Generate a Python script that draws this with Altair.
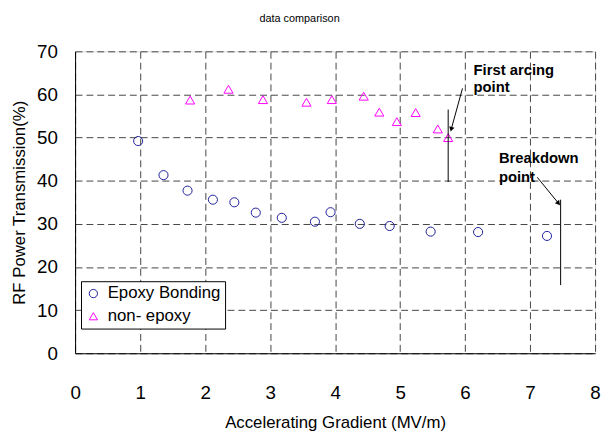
import altair as alt
import pandas as pd

epoxy_x = [0.97, 1.36, 1.73, 2.12, 2.45, 2.78, 3.18, 3.69, 3.93, 4.38, 4.84, 5.47, 6.20, 7.26]
epoxy_y = [49.2, 41.3, 37.7, 35.6, 35.0, 32.6, 31.4, 30.5, 32.7, 30.0, 29.5, 28.2, 28.1, 27.2]
nonep_x = [1.77, 2.36, 2.89, 3.56, 3.95, 4.44, 4.68, 4.95, 5.24, 5.58, 5.74]
nonep_y = [58.7, 61.2, 58.8, 58.2, 58.8, 59.6, 55.9, 53.7, 55.8, 52.0, 50.0]
series_names = ["Epoxy Bonding", "non- epoxy"]

# annotation markers (vertical bars)
vbar_x = [5.74, 7.47]
vbar_y1 = [56.5, 35.6]
vbar_y2 = [39.7, 15.8]
# arrows: start -> tip
arrow_x1 = [5.96, 7.11]
arrow_y1 = [61.4, 40.8]
arrow_x2 = [5.79, 7.43]
arrow_y2 = [52.1, 34.9]
arrow_angle = [195, 141]
# annotation text lines
note_x = [6.13, 6.13, 6.52, 6.52]
note_y = [65.65, 61.67, 45.27, 40.83]
note_text = ["First arcing", "point", "Breakdown", "point"]

pts = pd.DataFrame({
    "x": epoxy_x + nonep_x,
    "y": epoxy_y + nonep_y,
    "series": [series_names[0]] * len(epoxy_x) + [series_names[1]] * len(nonep_x),
})
vbars = pd.DataFrame({"x": vbar_x, "y": vbar_y1, "y2": vbar_y2})
arrows = pd.DataFrame({"x": arrow_x1, "y": arrow_y1, "x2": arrow_x2, "y2": arrow_y2, "angle": arrow_angle})
notes = pd.DataFrame({"x": note_x, "y": note_y, "text": note_text})

FONT = "Liberation Sans"

xscale = alt.Scale(domain=[0, 8], nice=False, zero=False)
yscale = alt.Scale(domain=[0, 70], nice=False, zero=False)

xaxis = alt.Axis(values=list(range(0, 9)), format="d", labelFlush=False, title="Accelerating Gradient (MV/m)",
                 titleFontSize=17, titleFontWeight="normal", titleFont=FONT, titlePadding=12,
                 labelFontSize=19, labelFont=FONT, labelPadding=31, tickSize=0,
                 grid=True, gridDash=[7, 4], gridColor="#444444", gridWidth=1, gridOpacity=1,
                 domainColor="black", labelColor="black", titleColor="black")
yaxis = alt.Axis(values=list(range(0, 71, 10)), format="d", labelFlush=False, title="RF Power Transmission(%)",
                 titleFontSize=17, titleFontWeight="normal", titleFont=FONT, titlePadding=8,
                 labelFontSize=19, labelFont=FONT, labelPadding=18, tickSize=0,
                 grid=True, gridDash=[7, 4], gridColor="#444444", gridWidth=1, gridOpacity=1,
                 domainColor="black", labelColor="black", titleColor="black")

points = alt.Chart(pts).mark_point(filled=False, strokeWidth=1, size=85, opacity=1).encode(
    x=alt.X("x:Q", scale=xscale, axis=xaxis),
    y=alt.Y("y:Q", scale=yscale, axis=yaxis),
    color=alt.Color("series:N", scale=alt.Scale(domain=series_names, range=["#1f1f99", "#ff00ff"]),
                    legend=alt.Legend(title=None, orient="none", legendX=6, legendY=233,
                                      fillColor="white", strokeColor="black", padding=4,
                                      labelFontSize=17, labelFont=FONT, labelColor="black",
                                      symbolSize=70, symbolStrokeWidth=1, symbolFillColor="transparent",
                                      rowPadding=5, labelOffset=6, cornerRadius=0)),
    shape=alt.Shape("series:N", scale=alt.Scale(domain=series_names, range=["circle", "triangle-up"]),
                    legend=alt.Legend(title=None, orient="none", legendX=6, legendY=233)),
)

bars = alt.Chart(vbars).mark_rule(color="black", strokeWidth=1).encode(
    x=alt.X("x:Q", scale=xscale), y=alt.Y("y:Q", scale=yscale), y2="y2:Q")

arrow_lines = alt.Chart(arrows).mark_rule(color="black", strokeWidth=1).encode(
    x=alt.X("x:Q", scale=xscale), y=alt.Y("y:Q", scale=yscale), x2="x2:Q", y2="y2:Q")

arrow_heads = alt.Chart(arrows).mark_point(shape="triangle", filled=True, color="black", size=30, opacity=1).encode(
    x=alt.X("x2:Q", scale=xscale), y=alt.Y("y2:Q", scale=yscale), angle=alt.Angle("angle:Q", scale=None))

texts = alt.Chart(notes).mark_text(align="left", baseline="middle", font=FONT, fontSize=15,
                                   fontWeight="bold", color="black").encode(
    x=alt.X("x:Q", scale=xscale), y=alt.Y("y:Q", scale=yscale), text="text:N")

chart = alt.layer(points, bars, arrow_lines, arrow_heads, texts).properties(
    width=527, height=306,
    title=alt.TitleParams("data comparison", fontSize=11, font=FONT, fontWeight="normal",
                          color="black", dx=-36, offset=19, anchor="middle"),
    autosize=alt.AutoSizeParams(type="none"),
    padding={"left": 68, "top": 41, "right": 6, "bottom": 84},
).configure_view(stroke="black", strokeWidth=1).configure(background="white")

chart.save("out.html", embed_options={"renderer": "svg", "actions": False})
